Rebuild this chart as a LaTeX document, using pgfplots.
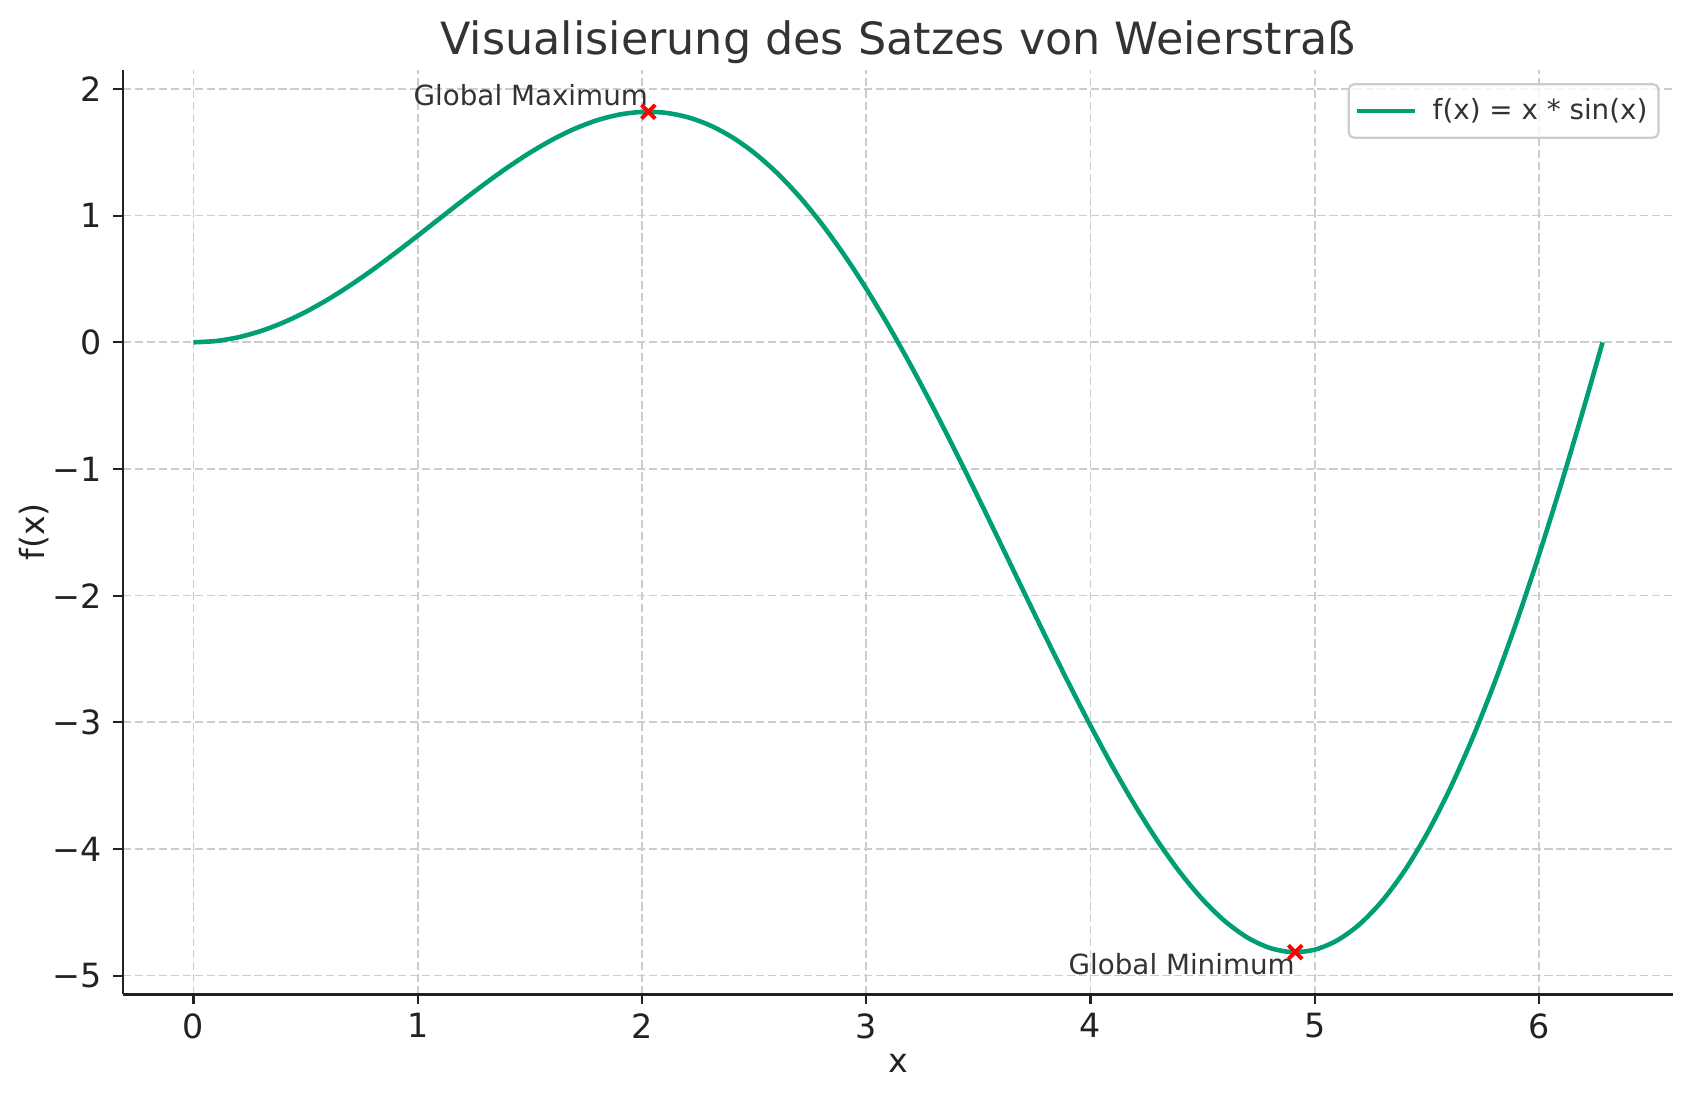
\documentclass[border=0pt]{standalone}
\usepackage{fontspec}
\setmainfont{DejaVu Sans}
\usepackage{pgfplots}
\pgfplotsset{compat=1.18}
\definecolor{cgreen}{RGB}{0,158,115}
\definecolor{txt}{RGB}{51,51,51}
\definecolor{spine}{RGB}{34,34,34}
\definecolor{gridc}{RGB}{204,204,204}
\begin{document}
\begin{tikzpicture}
\begin{axis}[
  scale only axis, width=558pt, height=332.8pt,
  xmin=-0.3142, xmax=6.5973, ymin=-5.146, ymax=2.152,
  axis lines*=left,
  axis line style={spine, line width=1pt},
  xtick={0,1,2,3,4,5,6}, xticklabels={0,1,2,3,4,5,6},
  ytick={-5,-4,-3,-2,-1,0,1,2}, yticklabels={−5,−4,−3,−2,−1,0,1,2},
  tick align=outside, major tick length=3.5pt,
  tick style={spine, line width=0.8pt},
  ticklabel style={font=\fontsize{12}{14}\selectfont, text=spine},
  yticklabel style={xshift=-0.7pt},
  grid=major,
  major grid style={gridc, line width=0.6pt, dash pattern=on 3pt off 1.3pt},
  xlabel={x}, ylabel={f(x)},
  label style={font=\fontsize{12}{14}\selectfont, text=spine},
  xlabel style={at={(axis description cs:0.5,-0.0754)}, anchor=center},
  ylabel style={at={(axis description cs:-0.0575,0.5)}, anchor=center},
  title={Visualisierung des Satzes von Weierstraß},
  title style={at={(axis description cs:0.5,0.9985)}, anchor=base, font=\fontsize{16}{19}\selectfont, text=txt},
  legend style={at={(rel axis cs:1,1)}, anchor=north east, xshift=-4.8pt, yshift=-4.8pt,
    draw=gridc, line width=0.8pt, rounded corners=2pt, fill=white, fill opacity=0.8, text opacity=1,
    font=\fontsize{10}{12}\selectfont, text=txt, inner xsep=2pt, inner ysep=3.1pt},
  legend cell align=left,
  legend image code/.code={\draw[#1] (0pt,0pt) -- (21pt,0pt);},
]
\addplot[cgreen, line width=1.65pt, smooth] coordinates {
(0,0) (0.1,0.009983) (0.2,0.039734) (0.3,0.088656) (0.4,0.155767) (0.5,0.239713)
(0.6,0.338785) (0.7,0.450952) (0.8,0.573885) (0.9,0.704994) (1.0,0.841471)
(1.1,0.980328) (1.2,1.118447) (1.3,1.252626) (1.4,1.379630) (1.5,1.496242)
(1.6,1.599318) (1.7,1.685830) (1.8,1.752926) (1.9,1.797970) (2.0,1.818595)
(2.1,1.812739) (2.2,1.778691) (2.3,1.715121) (2.4,1.621111) (2.5,1.496180)
(2.6,1.340302) (2.7,1.153926) (2.8,0.937966) (2.9,0.693822) (3.0,0.423360)
(3.1,0.128901) (3.2,-0.186797) (3.3,-0.520562) (3.4,-0.868839) (3.5,-1.227741)
(3.6,-1.593072) (3.7,-1.960393) (3.8,-2.325060) (3.9,-2.682287) (4.0,-3.027210)
(4.1,-3.354936) (4.2,-3.660619) (4.3,-3.939514) (4.4,-4.187049) (4.5,-4.398885)
(4.6,-4.570979) (4.7,-4.699638) (4.8,-4.781592) (4.9,-4.814020) (5.0,-4.794621)
(5.1,-4.721657) (5.2,-4.593966) (5.3,-4.411015) (5.4,-4.172926) (5.5,-3.880470)
(5.6,-3.535095) (5.7,-3.138910) (5.8,-2.694692) (5.9,-2.205874) (6.0,-1.676493)
(6.1,-1.111194) (6.2,-0.515152) (6.2832,0)
};
\addlegendentry{\hspace{3.6pt}f(x) = x * sin(x)}
\addplot[only marks, mark=x, mark size=3.5pt, red, line width=1.4pt, forget plot] coordinates {
(2.0288,1.8197) (4.9132,-4.8145)
};
\node[anchor=base east, inner sep=0pt, yshift=2.1pt, font=\fontsize{10}{12}\selectfont, text=txt]
  at (axis cs:2.0288,1.8197) {Global Maximum};
\node[anchor=base east, inner sep=0pt, yshift=-7.9pt, font=\fontsize{10}{12}\selectfont, text=txt]
  at (axis cs:4.9132,-4.8145) {Global Minimum};
\end{axis}
\pgfresetboundingbox
\path (current axis.south west) ++(-44.28pt,-38.4pt) rectangle ([xshift=7.2pt,yshift=25.1pt]current axis.north east);
\end{tikzpicture}
\end{document}
